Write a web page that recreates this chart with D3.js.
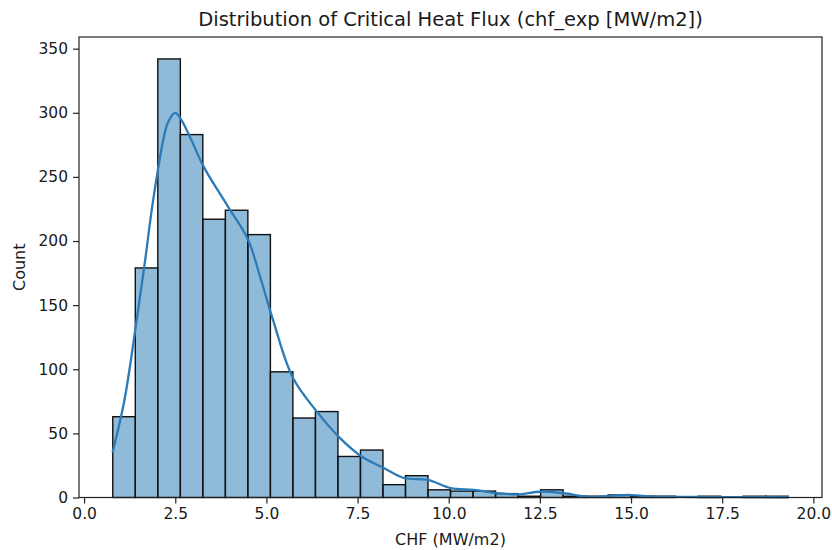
<!DOCTYPE html>
<html>
<head>
<meta charset="utf-8">
<script src="https://cdn.jsdelivr.net/npm/d3@7"></script>
<style>
  html, body { margin: 0; padding: 0; background: #fff; }
  svg { display: block; }
  text { font-family: "DejaVu Sans", sans-serif; fill: #1a1a1a; }
</style>
</head>
<body>
<svg id="chart" width="832" height="550"></svg>
<script>
// ---- data ----
const binEdges = [0.786, 1.404, 2.021, 2.639, 3.256, 3.874, 4.491, 5.109, 5.726, 6.344,
                  6.961, 7.579, 8.196, 8.814, 9.431, 10.049, 10.666, 11.284, 11.901, 12.519,
                  13.136, 13.754, 14.371, 14.989, 15.606, 16.224, 16.841, 17.459, 18.076, 18.694, 19.311];
const binCounts = [63, 179, 342, 283, 217, 224, 205, 98, 62, 67,
                   32, 37, 10, 17, 6, 5, 5, 3, 1, 6,
                   1, 1, 2, 1, 1, 0, 1, 0, 1, 1];
const kdeX = [0.786, 1.10, 1.40, 1.65, 1.863, 2.027, 2.164, 2.301, 2.493, 2.658,
              2.932, 3.288, 3.945, 4.493, 4.849, 5.178, 5.726, 6.411, 6.986, 7.589, 8.219, 8.767,
              9.425, 10.055, 10.685, 11.342, 11.890, 12.521, 13.151, 13.808, 14.438, 14.904, 15.534,
              16.630, 18.0, 19.311];
const kdeY = [35.8, 75.0, 130.0, 180.0, 226.0, 256.0, 278.0, 292.6, 300.0, 294.9,
              279.3, 257.4, 226.9, 201.2, 170.0, 138.7, 93.4, 66.0, 47.3, 32.4, 23.0, 15.2,
              13.7, 7.4, 5.9, 3.3, 2.5, 4.5, 3.3, 0.6, 1.2, 2.0, 0.8,
              0.4, 0.25, 0.2];
const xTicks = [0, 2.5, 5, 7.5, 10, 12.5, 15, 17.5, 20];
const yTicks = [0, 50, 100, 150, 200, 250, 300, 350];
const titleText = "Distribution of Critical Heat Flux (chf_exp [MW/m2])";
const xLabel = "CHF (MW/m2)";
const yLabel = "Count";

// ---- layout ----
const mLeft = 79, mRight = 822, mTop = 37, mBottom = 497.5;
const svg = d3.select("#chart");

const lo = binEdges[0], hi = binEdges[binEdges.length - 1];
const pad = (hi - lo) * 0.05;
const x = d3.scaleLinear().domain([lo - pad, hi + pad]).range([mLeft, mRight]);
const y = d3.scaleLinear().domain([0, d3.max(binCounts) * 1.05]).range([mBottom, mTop]);

const bins = binCounts.map((c, i) => ({ x0: binEdges[i], x1: binEdges[i + 1], c }));

// bars
svg.append("g").selectAll("rect").data(bins.filter(d => d.c > 0)).join("rect")
  .attr("x", d => x(d.x0))
  .attr("y", d => y(d.c))
  .attr("width", d => x(d.x1) - x(d.x0))
  .attr("height", d => y(0) - y(d.c))
  .attr("fill", "#1f77b4")
  .attr("fill-opacity", 0.5)
  .attr("stroke", "#111")
  .attr("stroke-width", 1.4);

// kde line
const kde = kdeX.map((v, i) => [v, kdeY[i]]);
svg.append("path")
  .datum(kde)
  .attr("fill", "none")
  .attr("stroke", "#2b7bb9")
  .attr("stroke-width", 2.3)
  .attr("stroke-linejoin", "round")
  .attr("stroke-linecap", "round")
  .attr("d", d3.line().x(d => x(d[0])).y(d => y(d[1])).curve(d3.curveCatmullRom.alpha(0.5)));

// axes
const fs = 15.5;
const xAxis = svg.append("g").attr("transform", `translate(0,${mBottom})`)
  .call(d3.axisBottom(x).tickValues(xTicks).tickFormat(d3.format(".1f")).tickSize(6).tickPadding(4));
const yAxis = svg.append("g").attr("transform", `translate(${mLeft},0)`)
  .call(d3.axisLeft(y).tickValues(yTicks).tickFormat(d3.format("d")).tickSize(6).tickPadding(5));
[xAxis, yAxis].forEach(g => {
  g.select(".domain").remove();
  g.selectAll("line").attr("stroke", "#222").attr("stroke-width", 1.2);
  g.selectAll("text").attr("font-size", fs).attr("font-family", "DejaVu Sans").attr("fill", "#1a1a1a");
});

// spines
svg.append("rect")
  .attr("x", mLeft).attr("y", mTop)
  .attr("width", mRight - mLeft).attr("height", mBottom - mTop)
  .attr("fill", "none").attr("stroke", "#222").attr("stroke-width", 1.2);

// title
svg.append("text")
  .attr("x", (mLeft + mRight) / 2).attr("y", 26)
  .attr("text-anchor", "middle").attr("font-size", 19.5)
  .text(titleText);

// axis labels
svg.append("text")
  .attr("x", (mLeft + mRight) / 2).attr("y", 545)
  .attr("text-anchor", "middle").attr("font-size", 16)
  .text(xLabel);
svg.append("text")
  .attr("transform", `translate(25,${(mTop + mBottom) / 2}) rotate(-90)`)
  .attr("text-anchor", "middle").attr("font-size", 16)
  .text(yLabel);
</script>
</body>
</html>
